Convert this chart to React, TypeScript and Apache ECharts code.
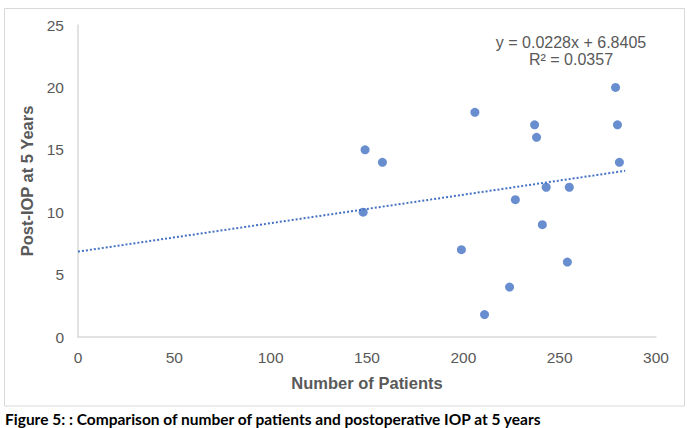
import React, { useEffect, useRef } from "react";
import * as echarts from "echarts";

const patients = [149, 158, 148, 206, 237, 238, 279, 280, 281, 243, 255, 227, 241, 199, 254, 224, 211];
const postIop = [15, 14, 10, 18, 17, 16, 20, 17, 14, 12, 12, 11, 9, 7, 6, 4, 1.8];
const xTicks = [0, 50, 100, 150, 200, 250, 300];
const yTicks = [0, 5, 10, 15, 20, 25];
const trendSlope = 0.0228;
const trendIntercept = 6.8405;
const trendRangeX = [0, 284];
const equationText = "y = 0.0228x + 6.8405";
const r2Text = "R² = 0.0357";
const xTitle = "Number of Patients";
const yTitle = "Post-IOP at 5 Years";
const caption = "Figure 5: : Comparison of number of patients and postoperative IOP at 5 years";

export default function App() {
  const ref = useRef<HTMLDivElement>(null);
  useEffect(() => {
    if (!ref.current) return;
    const chart = echarts.init(ref.current, null, { renderer: "svg" });
    const points = patients.map((p, i) => [p, postIop[i]]);
    const trend = trendRangeX.map((x) => [x, trendSlope * x + trendIntercept]);
    const font = "'Liberation Sans', Arial, sans-serif";
    chart.setOption({
      animation: false,
      backgroundColor: "#ffffff",
      grid: { left: 78, top: 25, width: 578, height: 312, containLabel: false },
      xAxis: {
        type: "value",
        min: xTicks[0],
        max: xTicks[xTicks.length - 1],
        interval: xTicks[1] - xTicks[0],
        name: xTitle,
        nameLocation: "middle",
        nameGap: 37,
        nameTextStyle: { fontFamily: font, fontSize: 16.5, fontWeight: "bold", color: "#595959" },
        axisLine: { show: true, lineStyle: { color: "#d9d9d9", width: 1.5 } },
        axisTick: { show: false },
        splitLine: { show: false },
        axisLabel: { fontFamily: font, fontSize: 15.5, color: "#595959", margin: 12 },
      },
      yAxis: {
        type: "value",
        min: yTicks[0],
        max: yTicks[yTicks.length - 1],
        interval: yTicks[1] - yTicks[0],
        name: yTitle,
        nameLocation: "middle",
        nameGap: 40,
        nameTextStyle: { fontFamily: font, fontSize: 16.5, fontWeight: "bold", color: "#595959" },
        axisLine: { show: true, lineStyle: { color: "#d9d9d9", width: 1.5 } },
        axisTick: { show: false },
        splitLine: { show: false },
        axisLabel: { fontFamily: font, fontSize: 15.5, color: "#595959", margin: 14 },
      },
      series: [
        {
          type: "line",
          data: trend,
          symbol: "none",
          lineStyle: { color: "#4472C4", width: 2, type: [2, 2] },
          silent: true,
          z: 1,
        },
        {
          type: "scatter",
          data: points,
          symbol: "circle",
          symbolSize: 9,
          itemStyle: { color: "#4472C4" },
          z: 2,
        },
      ],
      graphic: [
        {
          type: "rect",
          shape: { x: 4.5, y: 8.5, width: 680, height: 397.5 },
          style: { fill: "none", stroke: "#d9d9d9", lineWidth: 1 },
          silent: true,
        },
        {
          type: "text",
          x: 571,
          y: 42,
          style: {
            text: equationText,
            fontFamily: font,
            fontSize: 16,
            fill: "#595959",
            textAlign: "center",
            textVerticalAlign: "middle",
          },
        },
        {
          type: "text",
          x: 571,
          y: 59,
          style: {
            text: r2Text,
            fontFamily: font,
            fontSize: 16,
            fill: "#595959",
            textAlign: "center",
            textVerticalAlign: "middle",
          },
        },
        {
          type: "text",
          x: 5,
          y: 419,
          style: {
            text: caption,
            fontFamily: "Lato, 'Open Sans', sans-serif",
            fontSize: 15.5,
            fontWeight: "bold",
            fill: "#000000",
            textAlign: "left",
            textVerticalAlign: "middle",
          },
        },
      ],
    });
    return () => chart.dispose();
  }, []);
  return (
    <div style={{ position: "fixed", left: 0, top: 0, width: 687, height: 428 }}>
      <div ref={ref} style={{ width: 687, height: 428 }} />
    </div>
  );
}
